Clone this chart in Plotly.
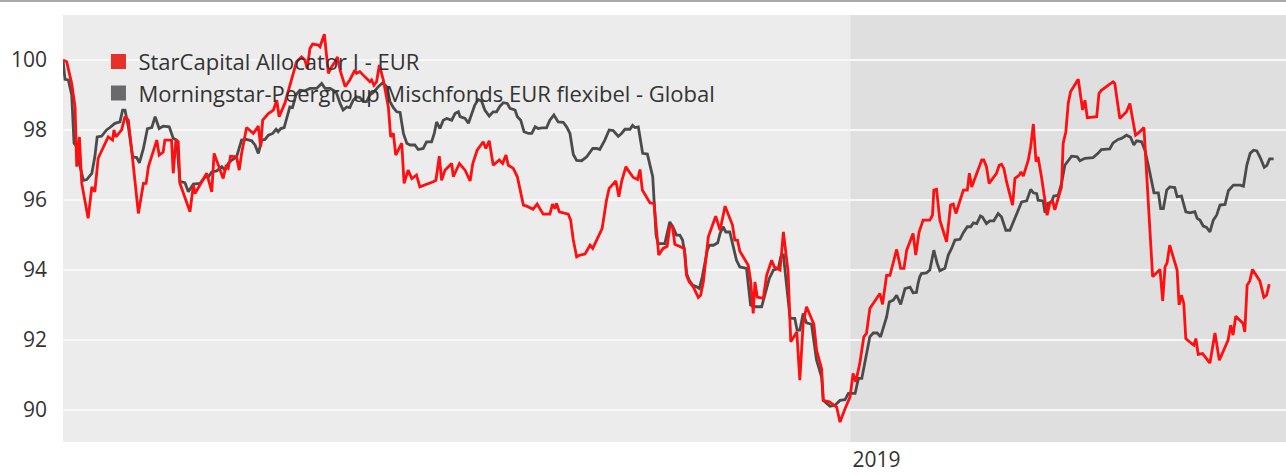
import pandas as pd
import plotly.graph_objects as go

START = "2018-05-11"
END = "2019-05-11"
YEAR_START = "2019-01-01"

names = ["StarCapital Allocator I - EUR", "Morningstar-Peergroup Mischfonds EUR flexibel - Global"]

# days since START, values (indexed to 100)
red_days = [0.0, 1.1, 2.6, 3.6, 4.1, 4.9, 5.6, 7.5, 8.6, 9.5, 10.5, 12.5, 13.5, 14.8, 15.2, 15.8, 17.5, 18.5, 19.5, 20.5,
            22.5, 24.0, 24.8, 25.5, 28.0, 28.7, 29.9, 30.4, 32.4, 32.9, 33.7, 34.4, 34.9, 37.9, 38.9, 39.4, 42.9, 44.4, 45.1, 47.8,
            48.6, 49.3, 50.0, 51.8, 52.6, 53.3, 54.8, 56.8, 58.3, 59.0, 59.6, 61.3, 62.8, 63.8, 64.5, 66.2, 68.2, 69.7, 71.2, 72.2,
            72.9, 73.7, 74.5, 76.2, 76.7, 78.0, 79.2, 80.2, 81.2, 81.9, 82.7, 84.2, 85.6, 87.1, 87.6, 88.6, 90.1, 91.6, 92.1, 92.8,
            93.6, 94.4, 95.6, 97.1, 97.8, 98.6, 99.3, 101.1, 101.8, 103.0, 104.1, 105.5, 106.5, 108.0, 110.5, 111.3, 112.3, 113.0, 114.0, 116.0,
            116.5, 118.3, 120.0, 121.5, 122.3, 123.6, 125.4, 126.2, 127.2, 128.4, 130.2, 131.2, 132.2, 132.9, 134.4, 135.6, 137.4, 138.4, 140.3, 141.5,
            143.3, 145.3, 146.1, 146.8, 147.3, 148.1, 150.8, 151.5, 152.3, 153.3, 154.3, 155.8, 157.3, 158.1, 159.3, 160.2, 160.9, 162.2, 163.0, 165.0,
            165.9, 166.7, 168.0, 169.0, 170.2, 171.5, 172.2, 172.9, 174.2, 175.2, 176.4, 177.4, 177.8, 179.1, 180.3, 181.1, 181.9, 182.6, 184.1, 185.4,
            186.1, 186.9, 188.1, 189.6, 190.3, 191.1, 192.6, 194.8, 196.1, 197.6, 199.8, 200.5, 201.3, 202.0, 204.5, 205.2, 206.0, 206.5, 207.2, 209.0,
            210.0, 211.5, 212.3, 214.0, 215.0, 216.4, 217.2, 219.0, 219.9, 220.9, 221.9, 224.1, 224.9, 226.4, 226.9, 228.7, 230.9, 231.9, 233.4, 234.9,
            235.8, 236.6, 237.8, 239.0, 239.8, 240.8, 243.8, 244.6, 245.8, 246.8, 248.8, 250.0, 251.0, 251.8, 253.7, 254.5, 255.5, 256.7, 258.7, 259.5,
            259.9, 260.7, 261.7, 263.7, 264.9, 265.7, 266.5, 268.7, 269.9, 270.5, 271.2, 273.1, 274.2, 274.8, 275.6, 276.4, 278.6, 279.4, 280.1, 280.8,
            281.6, 283.4, 284.1, 285.4, 285.9, 286.6, 288.1, 288.8, 289.6, 290.4, 291.0, 292.1, 293.7, 294.5, 295.3, 296.0, 298.0, 298.5, 299.3, 300.0,
            300.7, 303.0, 304.3, 305.0, 305.7, 308.5, 309.2, 310.0, 313.4, 313.9, 315.4, 317.4, 318.4, 320.1, 321.4, 322.6, 323.9, 325.2, 327.4, 328.2,
            328.9, 329.5, 330.3, 332.5, 333.1, 333.8, 334.5, 335.1, 336.8, 337.5, 338.1, 338.8, 340.1, 342.3, 343.8, 345.1, 347.7, 348.5, 349.2, 350.0,
            352.2, 352.7, 353.4, 354.2, 355.0, 357.2, 358.4, 359.2, 360.0]
red_vals = [100.0, 99.95, 99.33, 98.66, 96.95, 97.8, 96.47, 95.47, 96.37, 96.23, 97.19, 97.57, 97.8, 97.71, 98.0, 97.8, 98.0, 98.38, 98.28, 97.42,
            95.61, 96.47, 96.47, 96.95, 97.71, 97.28, 97.37, 97.71, 97.71, 96.76, 97.71, 97.66, 96.47, 95.66, 96.42, 96.18, 96.76, 96.23, 97.33, 96.61,
            96.95, 96.9, 97.25, 97.23, 96.85, 97.33, 98.07, 97.9, 98.11, 97.52, 98.28, 98.47, 98.57, 98.85, 98.38, 98.76, 99.43, 99.95, 100.09, 100.0,
            99.76, 100.33, 100.46, 100.43, 100.38, 100.74, 99.62, 99.81, 99.95, 100.09, 99.71, 99.24, 99.43, 99.71, 99.62, 99.67, 99.52, 99.38, 99.43, 99.28,
            99.38, 99.86, 99.43, 98.66, 97.8, 97.9, 97.28, 97.62, 96.47, 96.85, 96.61, 96.71, 96.37, 96.42, 96.52, 96.56, 97.25, 96.56, 96.85, 97.04,
            96.66, 97.04, 96.85, 96.54, 97.04, 97.42, 97.66, 97.47, 97.69, 96.99, 97.14, 97.04, 97.28, 96.99, 96.9, 96.66, 95.85, 95.82, 95.73, 95.88,
            95.59, 95.59, 95.88, 95.75, 95.9, 95.66, 95.59, 95.42, 94.85, 94.37, 94.42, 94.45, 94.70, 94.61, 94.85, 95.04, 95.18, 95.99, 96.33, 96.54,
            96.09, 96.52, 96.95, 96.8, 96.64, 96.58, 96.87, 96.28, 96.09, 95.91, 95.9, 94.85, 94.42, 94.61, 94.67, 95.23, 95.23, 94.73, 94.66, 94.61,
            93.84, 93.65, 93.51, 93.21, 93.27, 93.65, 94.94, 95.53, 95.13, 95.82, 95.28, 94.85, 94.85, 94.53, 94.13, 93.70, 92.75, 93.65, 93.22, 93.18,
            93.84, 94.27, 94.08, 93.99, 95.08, 93.94, 91.94, 92.22, 90.84, 92.46, 92.94, 92.44, 91.70, 91.17, 90.26, 90.22, 90.07, 89.64, 90.02, 90.36,
            91.03, 90.79, 91.32, 92.08, 92.18, 92.89, 93.32, 93.01, 93.84, 93.84, 94.58, 94.04, 94.04, 94.56, 95.04, 94.42, 95.08, 95.42, 95.42, 95.56,
            96.28, 96.30, 95.42, 94.80, 95.85, 95.88, 95.61, 96.28, 96.28, 96.76, 96.37, 96.85, 97.14, 97.14, 96.95, 96.47, 96.76, 96.99, 97.02, 96.90,
            96.52, 95.85, 96.61, 96.71, 96.80, 96.68, 97.14, 97.52, 98.17, 97.09, 97.23, 96.61, 95.56, 95.90, 95.99, 95.71, 96.37, 97.62, 97.95, 98.76,
            99.09, 99.45, 98.57, 98.85, 98.35, 98.38, 99.05, 99.14, 99.38, 99.33, 98.33, 98.52, 98.76, 97.85, 97.95, 98.07, 95.99, 93.80, 94.01, 93.11,
            94.08, 94.20, 94.70, 93.99, 92.99, 93.27, 93.03, 92.03, 91.89, 91.84, 92.03, 91.58, 91.60, 91.33, 92.19, 91.41, 91.98, 92.41, 92.13, 92.67,
            92.46, 92.22, 93.56, 93.68, 94.01, 93.68, 93.21, 93.27, 93.59]

grey_days = [0.0, 0.6, 1.6, 2.6, 3.3, 4.1, 4.6, 5.1, 6.1, 7.1, 8.6, 9.5, 10.2, 11.5, 13.0, 14.0, 15.5, 17.0, 17.8, 18.5,
             19.5, 20.8, 22.0, 22.8, 24.0, 25.2, 26.5, 27.5, 28.7, 29.9, 31.7, 32.9, 33.9, 34.9, 36.4, 37.4, 38.9, 40.9, 42.4, 43.4,
             44.4, 45.9, 47.4, 48.3, 49.3, 50.4, 51.8, 53.3, 54.8, 56.3, 57.3, 58.3, 59.3, 60.3, 61.3, 62.6, 63.6, 64.2, 65.0, 66.0,
             66.8, 67.7, 68.5, 69.5, 70.7, 72.2, 73.7, 75.7, 77.2, 78.2, 79.7, 80.7, 81.5, 82.7, 83.6, 84.7, 85.6, 86.6, 87.6, 88.6,
             89.6, 90.6, 91.6, 92.8, 94.1, 95.4, 96.6, 97.6, 98.6, 99.6, 100.6, 101.6, 102.6, 103.6, 105.0, 106.0, 107.5, 108.5, 110.0, 110.8,
             111.5, 112.5, 113.5, 114.5, 116.0, 117.0, 118.0, 118.5, 120.0, 121.0, 122.0, 122.9, 123.9, 124.9, 125.9, 127.2, 128.4, 129.4, 130.4, 131.4,
             132.6, 133.4, 134.9, 135.6, 136.6, 137.6, 138.9, 139.9, 140.9, 141.8, 142.9, 144.3, 145.3, 146.5, 147.8, 149.3, 150.3, 151.3, 152.3, 153.3,
             154.8, 156.3, 158.1, 159.3, 160.2, 161.7, 163.0, 164.2, 165.7, 166.7, 167.7, 169.2, 170.0, 170.7, 171.7, 172.2, 173.0, 174.4, 175.2, 176.0,
             176.4, 177.0, 177.6, 179.6, 180.4, 181.1, 182.1, 183.1, 184.1, 184.9, 185.6, 186.1, 186.9, 187.9, 189.1, 189.9, 190.8, 191.6, 192.3, 192.9,
             194.1, 195.4, 196.1, 197.0, 197.8, 199.0, 199.8, 201.0, 202.0, 204.0, 205.2, 206.5, 208.5, 209.5, 210.8, 212.0, 213.5, 214.2, 215.0, 216.0,
             217.0, 218.4, 219.1, 219.9, 220.9, 221.9, 223.4, 224.9, 226.4, 226.9, 228.9, 230.4, 231.9, 233.4, 234.4, 236.4, 237.4, 238.4, 239.9, 240.8,
             241.8, 243.0, 244.0, 245.0, 245.8, 246.6, 247.8, 248.8, 250.0, 251.3, 252.8, 253.7, 254.7, 255.2, 255.7, 256.2, 257.7, 258.7, 259.9, 260.9,
             261.7, 263.2, 264.2, 265.2, 266.2, 267.7, 268.7, 269.9, 270.9, 271.7, 272.7, 273.8, 274.4, 275.6, 276.6, 277.8, 279.1, 280.1, 281.4, 282.6,
             284.1, 285.1, 286.1, 287.6, 288.8, 289.6, 290.6, 291.0, 292.5, 293.1, 294.0, 295.0, 295.7, 297.0, 298.0, 299.0, 300.0, 301.0, 302.7, 303.5,
             305.0, 307.4, 308.9, 309.9, 312.4, 313.4, 314.9, 315.9, 317.4, 318.6, 319.6, 320.4, 321.9, 322.9, 323.9, 324.9, 325.6, 326.9, 327.6, 328.4,
             329.4, 330.3, 331.8, 332.5, 333.8, 335.1, 336.3, 337.8, 338.5, 339.3, 340.3, 341.3, 342.3, 343.3, 344.3, 345.3, 346.8, 347.8, 349.3, 351.3,
             352.3, 353.3, 354.3, 355.3, 356.3, 357.3, 358.5, 359.3, 360.1, 361.3]
grey_vals = [100.0, 99.45, 99.43, 99.0, 97.62, 97.52, 97.14, 96.95, 96.56, 96.58, 96.76, 97.23, 97.8, 97.82, 98.0, 98.07, 98.19, 98.23, 98.57, 98.57,
             98.09, 97.23, 97.21, 97.06, 97.47, 98.04, 98.07, 98.38, 98.04, 98.11, 98.09, 97.76, 97.71, 96.52, 96.49, 96.23, 96.45, 96.47, 96.66, 96.66,
             96.80, 96.83, 96.95, 96.85, 97.04, 97.14, 97.23, 97.71, 97.73, 97.69, 97.57, 97.33, 97.71, 97.73, 97.85, 97.90, 98.02, 97.95, 98.04, 98.07,
             98.33, 98.66, 98.64, 99.0, 99.14, 99.12, 99.19, 99.19, 99.33, 99.19, 99.19, 99.14, 99.09, 98.76, 98.57, 98.66, 98.64, 98.85, 98.95, 98.93,
             98.81, 98.81, 99.0, 99.09, 99.24, 99.35, 99.24, 98.81, 98.64, 98.52, 98.50, 97.90, 97.62, 97.57, 97.57, 97.44, 97.47, 97.66, 97.66, 97.90,
             98.23, 98.04, 98.28, 98.33, 98.28, 98.47, 98.52, 98.38, 98.33, 98.19, 98.47, 98.71, 98.87, 98.83, 98.57, 98.40, 98.52, 98.52, 98.68, 98.78,
             98.76, 98.62, 98.57, 98.38, 98.28, 97.95, 97.90, 97.90, 98.09, 98.04, 98.06, 98.06, 98.28, 98.43, 98.23, 98.22, 98.09, 97.90, 97.30, 97.13,
             97.12, 97.23, 97.47, 97.47, 97.44, 97.71, 98.0, 97.98, 97.82, 97.90, 98.02, 98.02, 98.13, 98.07, 98.09, 97.80, 97.33, 97.31, 96.95, 96.66,
             95.99, 94.99, 94.75, 94.75, 95.08, 95.37, 95.21, 94.99, 94.99, 94.85, 94.47, 93.89, 93.70, 93.56, 93.51, 93.46, 93.80, 94.18, 94.56, 94.70,
             94.70, 94.77, 95.04, 95.23, 95.08, 95.08, 94.75, 94.27, 94.08, 94.04, 92.99, 92.94, 92.94, 93.27, 93.75, 93.99, 94.04, 94.37, 94.42, 93.51,
             92.61, 92.61, 92.27, 92.27, 92.75, 92.48, 92.44, 91.41, 90.93, 90.26, 90.09, 90.12, 90.26, 90.28, 90.46, 90.46, 90.89, 90.89, 91.70, 92.08,
             92.19, 92.19, 92.08, 92.41, 92.65, 93.08, 93.13, 93.27, 93.01, 93.46, 93.50, 93.34, 93.35, 93.61, 93.80, 93.89, 93.91, 93.99, 94.56, 94.18,
             93.97, 94.04, 94.42, 94.61, 94.85, 94.87, 95.06, 95.23, 95.23, 95.34, 95.32, 95.54, 95.51, 95.32, 95.40, 95.40, 95.61, 95.51, 95.13, 95.13,
             95.47, 95.66, 95.94, 95.97, 96.30, 96.20, 96.18, 95.99, 95.97, 95.63, 95.90, 95.94, 96.11, 96.13, 96.47, 96.99, 97.14, 97.25, 97.23, 97.12,
             97.19, 97.21, 97.33, 97.44, 97.46, 97.63, 97.73, 97.76, 97.85, 97.79, 97.57, 97.69, 97.66, 97.42, 96.99, 96.47, 96.20, 96.20, 95.75, 95.75,
             96.28, 96.37, 96.35, 96.09, 96.11, 95.66, 95.63, 95.66, 95.47, 95.42, 95.25, 95.21, 95.08, 95.42, 95.56, 95.85, 95.87, 96.26, 96.42, 96.42,
             96.39, 96.99, 97.33, 97.42, 97.40, 97.21, 96.93, 96.99, 97.17, 97.17]

y_ticks = [90, 92, 94, 96, 98, 100]
x_tick_labels = ["2019"]

RED = "#ff0f0f"
GREY = "#4b4b4b"
FONT = "Open Sans"

start = pd.Timestamp(START)
red_x = start + pd.to_timedelta(red_days, unit="D")
grey_x = start + pd.to_timedelta(grey_days, unit="D")

fig = go.Figure()
fig.add_trace(go.Scatter(x=grey_x, y=grey_vals, mode="lines", line=dict(color=GREY, width=2.8),
                         showlegend=False, hoverinfo="skip"))
fig.add_trace(go.Scatter(x=red_x, y=red_vals, mode="lines", line=dict(color=RED, width=2.8),
                         showlegend=False, hoverinfo="skip"))
# legend entries (square swatches)
fig.add_trace(go.Scatter(x=[None], y=[None], mode="markers", name=names[0],
                         marker=dict(symbol="square", size=15, color="#e8302a")))
fig.add_trace(go.Scatter(x=[None], y=[None], mode="markers", name=names[1],
                         marker=dict(symbol="square", size=15, color="#6a6a6e")))

fig.add_shape(type="rect", xref="x", yref="paper", x0=YEAR_START, x1=END, y0=0, y1=1,
              fillcolor="#dfdfdf", line=dict(width=0), layer="below")
fig.add_shape(type="line", xref="paper", yref="paper", x0=-0.06, x1=1.0, y0=1.033, y1=1.033,
              line=dict(color="#a9a9a9", width=2))

fig.update_layout(
    width=1286, height=475,
    margin=dict(l=63, r=0, t=15, b=33, autoexpand=False),
    paper_bgcolor="white", plot_bgcolor="#ececec",
    font=dict(family=FONT, size=19, color="#333333"),
    legend=dict(x=0.029, y=0.94, xanchor="left", yanchor="top", bgcolor="rgba(0,0,0,0)",
                font=dict(size=22, color="#333333"), tracegroupgap=0),
    xaxis=dict(type="date", range=[START, END], showgrid=False, zeroline=False, showline=False,
               automargin=False,
               tickvals=[YEAR_START], ticktext=x_tick_labels, ticks="",
               ticklabelshift=26, ticklabelstandoff=3, tickfont=dict(size=21, color="#333333")),
    yaxis=dict(range=[89.07, 101.29], tickvals=y_ticks, showgrid=True, gridcolor="#f8f8f8", gridwidth=1.5,
               automargin=False,
               zeroline=False, showline=False, ticks="", ticklabelstandoff=15,
               tickfont=dict(size=21, color="#333333")),
)

fig.write_html("out.html", config={"displayModeBar": False},
               post_script="document.body.style.margin='0';document.body.style.overflow='hidden';")
